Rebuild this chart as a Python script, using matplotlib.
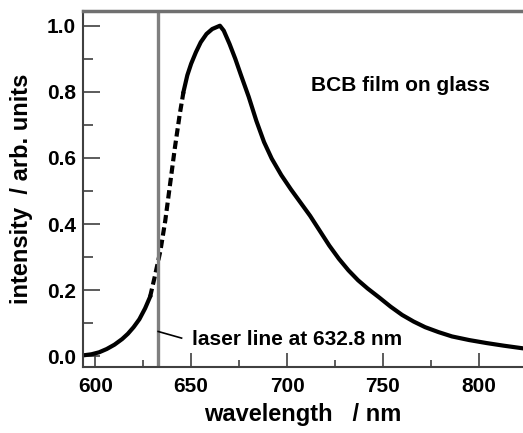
import numpy as np
import matplotlib.pyplot as plt
from matplotlib.ticker import MultipleLocator

plt.rcParams.update({'font.family': 'Liberation Sans', 'font.weight': 'bold',
                     'axes.labelweight': 'bold'})

# emission spectrum
wavelength = np.array([594, 598, 602, 606, 610, 614, 617, 620, 623, 626, 628.6,
                       631, 634, 636.5, 639, 641.5, 644, 646,
                       648, 650, 652.5, 655, 658, 661, 665, 667, 670, 673, 676,
                       680, 684, 688, 692, 697, 702, 707, 712, 717, 722, 727,
                       732, 737, 742, 748, 754, 760, 766, 772, 779, 786, 795,
                       804, 813, 823])
intensity = np.array([0.003, 0.006, 0.012, 0.022, 0.035, 0.052, 0.068, 0.088, 0.112, 0.145, 0.18,
                      0.24, 0.32, 0.41, 0.52, 0.63, 0.73, 0.80,
                      0.85, 0.885, 0.92, 0.95, 0.975, 0.99, 1.0, 0.985, 0.945, 0.90, 0.85,
                      0.785, 0.712, 0.648, 0.598, 0.548, 0.505, 0.465, 0.425, 0.38, 0.335, 0.295,
                      0.26, 0.23, 0.205, 0.178, 0.15, 0.125, 0.105, 0.088, 0.073, 0.06, 0.049,
                      0.04, 0.032, 0.024])
dash_start = 628.6   # part hidden behind the laser, drawn dashed
dash_end = 646
laser = 632.8

fig = plt.figure(figsize=(5.23, 4.33), dpi=100)
ax = fig.add_axes([0.159, 0.152, 0.841, 0.823])

m1 = wavelength <= dash_start
m2 = (wavelength >= dash_start) & (wavelength <= dash_end)
m3 = wavelength >= dash_end
ax.plot(wavelength[m1], intensity[m1], c='k', lw=3)
ax.plot(wavelength[m2], intensity[m2], c='k', lw=3, linestyle=(0, (2, 1)))
ax.plot(wavelength[m3], intensity[m3], c='k', lw=3)

ax.axvline(x=laser, c='#7f7f7f', lw=2.4)
ax.plot([laser, 645], [0.075, 0.055], c='k', lw=1.2)
ax.text(650.5, 0.05, 'laser line at 632.8 nm', fontsize=15, va='center')
ax.text(759, 0.82, 'BCB film on glass', fontsize=15, ha='center', va='center')

ax.set_xlim(593.7, 823)
ax.set_ylim(-0.033, 1.045)
ax.xaxis.set_major_locator(MultipleLocator(50))
ax.xaxis.set_minor_locator(MultipleLocator(25))
ax.yaxis.set_major_locator(MultipleLocator(0.2))
ax.yaxis.set_minor_locator(MultipleLocator(0.1))
ax.yaxis.set_major_formatter(plt.FormatStrFormatter('%.1f'))
ax.tick_params(which='both', direction='in', labelsize=15, color='#404040')
ax.tick_params(axis='y', which='major', length=12, width=1.2, pad=5)
ax.tick_params(axis='y', which='minor', length=7, width=1.2)
ax.tick_params(axis='x', which='major', length=10, width=1.2, pad=7)
ax.tick_params(axis='x', which='minor', length=5, width=1.2)

for side in ['left', 'bottom']:
    ax.spines[side].set_color('#404040')
    ax.spines[side].set_linewidth(1.5)
ax.spines['top'].set_color('#707070')
ax.spines['top'].set_linewidth(2.5)
ax.spines['right'].set_visible(False)

ax.set_xlabel('wavelength   / nm', fontsize=17, labelpad=5)
ax.set_ylabel('intensity  / arb. units', fontsize=17, labelpad=10)

fig.savefig('out.png', dpi=100)
